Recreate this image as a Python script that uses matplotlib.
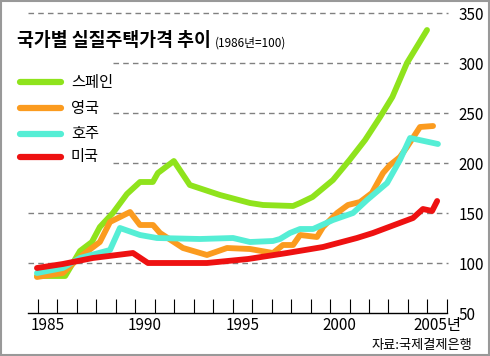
import numpy as np
import matplotlib.pyplot as plt
from matplotlib.patches import Rectangle

plt.rcParams['font.family'] = ['Noto Sans CJK KR', 'DejaVu Sans']
num_font = ['Liberation Sans Narrow', 'Noto Sans CJK KR', 'DejaVu Sans']

# 실질주택가격 지수 (1986년=100), 그림에서 읽은 값
spain_x = [1984.45, 1985.9, 1986.66, 1987.27, 1987.68, 1988.35, 1989.07, 1989.74, 1990.4, 1990.66,
           1991.48, 1992.3, 1993.85, 1995.39, 1996.06, 1997.6, 1997.96, 1998.6, 1999.65, 2000.5,
           2001.3, 2002.07, 2002.7, 2003.45, 2004.48]
spain_y = [87, 87, 112, 121, 136, 150, 169, 181, 181, 190,
           202, 178, 168, 160, 158, 157, 160, 166, 183, 203,
           223, 246, 266, 300, 333]

uk_x = [1984.45, 1985.78, 1986.66, 1987.68, 1988.2, 1989.23, 1989.74, 1990.41, 1990.77, 1991.95,
        1993.18, 1994.21, 1995.39, 1996.57, 1997.08, 1997.6, 1997.96, 1998.83, 1999.14, 1999.86,
        2000.42, 2001.04, 2001.65, 2002.22, 2002.58, 2003.09, 2003.45, 2004.12, 2004.79]
uk_y = [86, 90, 106, 121, 141, 151, 138, 138, 130, 115,
        108, 115, 114, 110, 118, 118, 128, 126, 136, 150,
        158, 161, 170, 190, 198, 206, 216, 236, 237]

aus_x = [1984.45, 1985.78, 1986.66, 1988.2, 1988.71, 1989.74, 1990.61, 1992.82, 1994.52, 1995.39,
         1996.57, 1996.93, 1997.44, 1997.96, 1998.63, 1999.65, 2000.68, 2001.4, 2002.43, 2003.09,
         2003.61, 2005.04]
aus_y = [90, 95, 105, 113, 135, 128, 125, 124, 125, 121,
         122, 124, 130, 134, 134, 143, 150, 163, 180, 203,
         225, 219]

us_x = [1984.45, 1985.78, 1987.32, 1989.38, 1990.15, 1993.18, 1995.29, 1997.29, 1999.14, 2000.88,
        2001.7, 2003.76, 2004.27, 2004.74, 2005.0]
us_y = [95, 99, 105, 110, 100, 100, 104, 110, 116, 125,
        130, 145, 154, 152, 162]

names = ['스페인', '영국', '호주', '미국']
colors = ['#8fe31c', '#fb9b1f', '#55eed5', '#ee1111']

year_labels = [1985, 1990, 1995, 2000, 2005]
year_text = ['1985', '1990', '1995', '2000', '2005년']
y_ticks = [50, 100, 150, 200, 250, 300, 350]

fig = plt.figure(figsize=(4.9, 3.56), dpi=100)
ax = fig.add_axes([28 / 490, 1 - 313 / 356, (450 - 28) / 490, (313 - 8) / 356])
ax.set_xlim(1983.99, 2005.66)
ax.set_ylim(50, 355)

# 점선 눈금선
for v in y_ticks[1:]:
    start = 1988.35 if v in (200, 250, 300) else 1983.99
    ax.hlines(v, start, 2005.56, colors='#808080', linestyles=(0, (4, 3)), linewidth=1, zorder=1)

series = [(spain_x, spain_y), (uk_x, uk_y), (aus_x, aus_y), (us_x, us_y)]
for i, (xs, ys) in enumerate(series):
    ax.plot(xs, ys, color=colors[i], linewidth=4.2, solid_capstyle='round',
            solid_joinstyle='round', zorder=3 + i)

for s in ['top', 'left', 'right']:
    ax.spines[s].set_visible(False)
ax.spines['bottom'].set_linewidth(1)
ax.spines['bottom'].set_bounds(1983.99, 2005.5)

ax.set_xticks(np.arange(1984.5, 2006, 1))
ax.set_xticklabels([])
ax.tick_params(axis='x', which='major', direction='in', length=10, width=0.8)
ax.set_xticks(year_labels, minor=True)
ax.set_xticklabels(year_text, minor=True, fontsize=11, family=num_font)
ax.tick_params(axis='x', which='minor', length=0, pad=3)

ax.yaxis.tick_right()
ax.set_yticks(y_ticks)
ax.set_yticklabels([str(v) for v in y_ticks], fontsize=11, family=num_font)
ax.tick_params(axis='y', length=0, pad=6)

# 제목
fig.text(17 / 490, 1 - 41 / 356, '국가별 실질주택가격 추이', fontsize=13.2, fontweight='bold',
         ha='left', va='center')
fig.text(215 / 490, 1 - 43 / 356, '(1986년=100)', fontsize=8.5, ha='left', va='center',
         family=['Liberation Sans Narrow', 'Noto Sans CJK KR'])

# 범례
leg_y = [82, 108, 134, 157]
for name, c, yy in zip(names, colors, leg_y):
    fig.add_artist(plt.Line2D([20 / 490, 61 / 490], [1 - yy / 356, 1 - yy / 356], color=c,
                              linewidth=4.5, solid_capstyle='round'))
    fig.text(71 / 490, 1 - yy / 356, name, fontsize=11, ha='left', va='center')

fig.text(472 / 490, 1 - 345 / 356, '자료:국제결제은행', fontsize=9.5, ha='right', va='center')

fig.add_artist(Rectangle((0.002, 0.003), 0.996, 0.994, transform=fig.transFigure,
                         fill=False, edgecolor='#999999', linewidth=1.5))

fig.savefig('out.png', dpi=100)
